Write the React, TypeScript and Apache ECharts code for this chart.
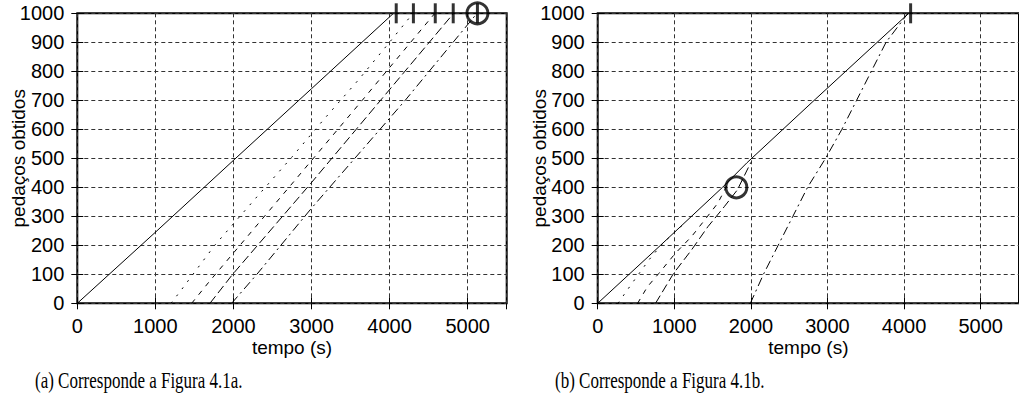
import React, { useEffect, useRef } from "react";
import * as echarts from "echarts";

// ---------- data ----------
const X_MAX = 5500;
const Y_MAX = 1000;

// Panel (a)
const aSolid = [[0, 0], [1000, 245], [2000, 493], [3000, 740], [4050, 1000]];
const aDotted = [[1200, 0], [1315, 40], [1763, 201], [2339, 379], [2745, 503], [3151, 632], [3600, 770], [4005, 902], [4300, 1000]];
const aDashed = [[1465, 0], [1700, 78], [2724, 404], [3650, 700], [4580, 1000]];
const aLongDash = [[1699, 0], [1990, 100], [2980, 410], [3900, 705], [4820, 1000]];
const aDashDot = [[1977, 0], [2300, 100], [3000, 328], [4200, 700], [5120, 1000]];
const aFinishTicks = [[4085, 1000], [4305, 1000], [4585, 1000], [4815, 1000], [5125, 1000]];
const aCircle = [[5125, 1000]];

// Panel (b)
const bSolid = [[0, 0], [820, 200], [1630, 400], [1950, 485], [2847, 705], [4060, 1000]];
const bDotted = [[265, 0], [371, 40], [500, 88], [670, 150], [850, 207], [1100, 268]];
const bDashed = [[521, 0], [649, 57], [798, 103], [1012, 172], [1225, 230], [1396, 287], [1567, 345], [1700, 412]];
const bLongDash = [[755, 0], [990, 103], [1225, 184], [1438, 264], [1652, 333], [1823, 391], [1972, 471], [2000, 486]];
const bDashDot = [[1993, 0], [2164, 100], [2356, 200], [2548, 300], [2740, 400], [2975, 500], [3188, 600], [3380, 700], [3572, 800], [3764, 900], [4050, 1000]];
const bFinishTicks = [[4085, 1000]];
const bCircle = [[1810, 400]];

const yName = "pedaços obtidos";
const xName = "tempo (s)";
const captions = ["(a) Corresponde a Figura 4.1a.", "(b) Corresponde a Figura 4.1b."];

// ---------- styling ----------
const SANS = "Liberation Sans, Arial, sans-serif";
const SERIF = "Liberation Serif, Times New Roman, serif";
const GRID_LEFTS = [77.3, 597.7];
const GRID_TOP = 13.3;
const GRID_W = 429.4;
const GRID_H = 290;

const dashStyles: (number[] | "solid")[] = ["solid", [2, 7], [5, 6], [9, 4], [9, 4, 2, 4]];

function buildOption() {
  const grids: any[] = [];
  const xAxes: any[] = [];
  const yAxes: any[] = [];
  const series: any[] = [];
  const panels = [
    { lines: [aSolid, aDotted, aDashed, aLongDash, aDashDot], ticks: aFinishTicks, circle: aCircle },
    { lines: [bSolid, bDotted, bDashed, bLongDash, bDashDot], ticks: bFinishTicks, circle: bCircle },
  ];
  const tickStyle = { show: true, inside: true, length: 6, lineStyle: { color: "#000", width: 1 } };
  const plain = (v: number) => String(v);
  panels.forEach((p, i) => {
    grids.push({
      left: GRID_LEFTS[i], top: GRID_TOP, width: GRID_W, height: GRID_H,
      show: true, borderColor: "#000", borderWidth: 2, backgroundColor: "transparent",
    });
    const xBase = {
      type: "value", gridIndex: i, min: 0, max: X_MAX, interval: 1000,
      axisLine: { show: false }, axisTick: tickStyle,
    };
    xAxes.push({
      ...xBase, position: "bottom",
      axisLabel: { color: "#000", fontSize: 20, fontFamily: SANS, margin: 13, showMaxLabel: false, formatter: plain },
      splitLine: { show: true, lineStyle: { color: "#333", width: 1, type: [4, 3] } },
      name: xName, nameLocation: "middle", nameGap: 35, nameMoveOverlap: false,
      nameTextStyle: { color: "#000", fontSize: 19, fontFamily: SANS },
    });
    xAxes.push({ ...xBase, position: "top", axisLabel: { show: false }, splitLine: { show: false } });
    const yBase = {
      type: "value", gridIndex: i, min: 0, max: Y_MAX, interval: 100,
      axisLine: { show: false }, axisTick: tickStyle,
    };
    yAxes.push({
      ...yBase, position: "left",
      axisLabel: { color: "#000", fontSize: 20, fontFamily: SANS, margin: 13, formatter: plain },
      splitLine: { show: true, lineStyle: { color: "#333", width: 1, type: [4, 3] } },
      name: yName, nameLocation: "middle", nameGap: 49, nameMoveOverlap: false,
      nameTextStyle: { color: "#000", fontSize: 19, fontFamily: SANS },
    });
    yAxes.push({ ...yBase, position: "right", axisLabel: { show: false }, splitLine: { show: false } });

    p.lines.forEach((d, k) => {
      series.push({
        type: "line", xAxisIndex: 2 * i, yAxisIndex: 2 * i, data: d,
        symbol: "none", showSymbol: false, silent: true,
        lineStyle: { color: "#000", width: 1, type: dashStyles[k] },
      });
    });
    series.push({
      type: "scatter", xAxisIndex: 2 * i, yAxisIndex: 2 * i, data: p.ticks, clip: false,
      symbol: "rect", symbolSize: [3, 20], itemStyle: { color: "#000" }, silent: true,
    });
    series.push({
      type: "scatter", xAxisIndex: 2 * i, yAxisIndex: 2 * i, data: p.circle, clip: false,
      symbol: "circle", symbolSize: 21, silent: true,
      itemStyle: { color: "rgba(0,0,0,0)", borderColor: "#000", borderWidth: 3 },
    });
  });

  const graphic = [
    { type: "text", left: 35, top: 369, scaleY: 1.3, style: { text: captions[0], fill: "#000", font: `17px ${SERIF}` } },
    { type: "text", left: 555, top: 369, scaleY: 1.3, style: { text: captions[1], fill: "#000", font: `17px ${SERIF}` } },
  ];

  return { animation: false, backgroundColor: "#fff", grid: grids, xAxis: xAxes, yAxis: yAxes, series, graphic };
}

export default function App() {
  const ref = useRef<HTMLDivElement>(null);
  useEffect(() => {
    if (!ref.current) return;
    const chart = echarts.init(ref.current, null, { renderer: "svg" });
    chart.setOption(buildOption() as any);
    return () => chart.dispose();
  }, []);
  return (
    <div
      ref={ref}
      style={{ position: "absolute", left: 0, top: 0, width: 1019, height: 405, background: "#fff" }}
    />
  );
}
